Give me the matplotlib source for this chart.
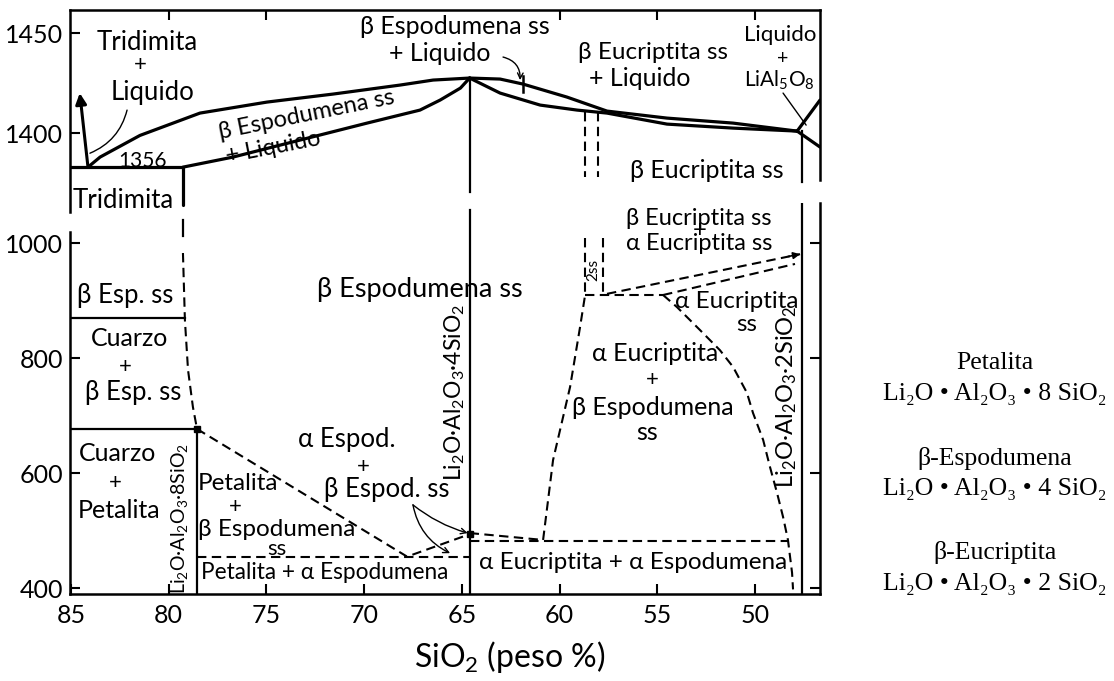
import numpy as np
import matplotlib
matplotlib.use('Agg')
import matplotlib.pyplot as plt

plt.rcParams['font.family'] = ['Lato', 'DejaVu Sans']
plt.rcParams['mathtext.fontset'] = 'custom'
plt.rcParams['mathtext.rm'] = 'Lato'
plt.rcParams['mathtext.default'] = 'regular'

# compositions of the compounds (peso % SiO2)
PETALITA = 78.55
ESPODUMENA = 64.6
EUCRIPTITA = 47.6

# ---- upper part: liquidus / solidus (SiO2 %, degC)
eut_t = 1356
trid_liq_sio2 = [84.13, 84.55]
trid_liq_t = [1356, 1420]
spod_liq_sio2 = [84.13, 83.51, 81.47, 78.40, 74.97, 71.59, 68.16, 66.47, 64.6]
spod_liq_t = [1356, 1369, 1397, 1410, 1415.5, 1419.5, 1424, 1426.5, 1427.5]
spod_sol_sio2 = [79.27, 76.71, 73.28, 69.85, 67.14, 66.11, 65.07, 64.6]
spod_sol_t = [1356, 1369, 1391, 1405, 1411.5, 1416.5, 1422.5, 1427.5]
eucr_liq_sio2 = [64.6, 63.04, 61.87, 59.62, 57.57, 54.50, 51.12, 47.84]
eucr_liq_t = [1427.5, 1427, 1424.5, 1418, 1411, 1407.5, 1405, 1401]
eucr_sol_sio2 = [64.6, 63.04, 60.99, 59.10, 57.57, 54.50, 51.12, 47.84]
eucr_sol_t = [1427.5, 1420, 1414, 1411.5, 1410, 1404.5, 1402.5, 1401]
lial_liq_sio2 = [47.84, 46.67]
lial_liq_t = [1401, 1416.5]
lial_low_sio2 = [47.84, 46.67]
lial_low_t = [1401, 1382]
trid_limit_sio2 = 79.27
ss2_top_sio2 = [58.69, 58.03]

# ---- lower part: subsolidus boundaries (SiO2 %, degC)
cuarzo_t = 870
petal_t = 677
spod_limit_sio2 = [79.27, 79.17, 79.01, 78.76, 78.55]
spod_limit_t = [983, 866.5, 779.6, 715.2, 677]
ab_spod_sio2 = [78.55, 67.8, 64.6]
ab_spod_t = [677, 455, 494]
petal_alpha_t = 455
euc_spod_sio2 = [64.6, 60.84]
euc_spod_t = [496, 484]
alpha_alpha_t = 482
alpha_euc_left_sio2 = [60.84, 60.33, 59.46, 58.95, 58.69]
alpha_euc_left_t = [484, 623, 750, 854, 910]
ss2_sio2 = [58.69, 57.77]
ss2_t = [1009, 910]
inversion_t = 910
alpha_euc_ss_sio2 = [54.70, 53.99, 52.81, 51.79, 51.12, 50.41, 50.10, 49.58,
                     49.23, 48.87, 48.56, 48.31, 48.10, 48.05]
alpha_euc_ss_t = [910, 889, 849, 814, 785, 740, 705, 658, 611, 566, 524, 484,
                  427, 398]
ba_euc_up_sio2 = [57.57, 47.69]
ba_euc_up_t = [912, 981]
ba_euc_low_sio2 = [54.70, 47.95]
ba_euc_low_t = [910, 964]

X_LIM = (85.05, 46.67)
TOP_LIM = (1298, 1461.5)
BOT_LIM = (390, 1070)
SQUEEZE = 17 / 44  # the range under 1400 is drawn compressed


def fwd(t):
    t = np.asarray(t, dtype=float)
    return np.where(t >= 1400, t, 1400 - (1400 - t) * SQUEEZE)


def inv(u):
    u = np.asarray(u, dtype=float)
    return np.where(u >= 1400, u, 1400 - (1400 - u) / SQUEEZE)


W, H = 1114, 681
fig = plt.figure(figsize=(W / 100, H / 100), dpi=100)
ax_b = fig.add_axes([70 / W, 1 - 594 / H, 750 / W, 391 / H])
ax_t = fig.add_axes([70 / W, 1 - 212 / H, 750 / W, 202 / H])
for ax in (ax_t, ax_b):
    ax.set_facecolor('none')
    ax.set_xlim(*X_LIM)
    for s in ax.spines.values():
        s.set_linewidth(1.8)

solid = dict(color='k', lw=2.3, solid_capstyle='round')
thin = dict(color='k', lw=1.6)
dash = dict(color='k', lw=1.5, ls=(0, (4.5, 2.6)))

# ---------------- upper panel
ax_t.set_yscale('function', functions=(fwd, inv))
ax_t.set_ylim(*TOP_LIM)
ax_t.spines['bottom'].set_visible(False)
ax_t.spines['right'].set_bounds(1339, TOP_LIM[1])
ax_t.set_yticks([1400, 1450])
ax_t.set_yticklabels(['1400', '1450'])
ax_t.yaxis.set_minor_locator(plt.NullLocator())
ax_t.xaxis.set_ticks_position('top')
ax_t.set_xticks([80, 75, 60, 55, 50])
ax_t.tick_params(axis='x', direction='in', length=7, width=1.5,
                 labeltop=False, labelbottom=False)
ax_t.tick_params(axis='y', direction='in', length=7, width=1.5, pad=5,
                 labelsize=18)

ax_t.plot(spod_liq_sio2, spod_liq_t, **solid)
ax_t.plot(spod_sol_sio2, spod_sol_t, **solid)
ax_t.plot(eucr_liq_sio2, eucr_liq_t, **solid)
ax_t.plot(eucr_sol_sio2, eucr_sol_t, **solid)
ax_t.plot(lial_liq_sio2, lial_liq_t, **solid)
ax_t.plot(lial_low_sio2, lial_low_t, **solid)
ax_t.plot([X_LIM[0], trid_limit_sio2], [eut_t, eut_t], **solid)
ax_t.plot([trid_limit_sio2, trid_limit_sio2], [eut_t, 1306.7], **solid)
ax_t.plot([ESPODUMENA, ESPODUMENA], [1427.5, 1323.6], **thin)
ax_t.plot([EUCRIPTITA, EUCRIPTITA], [1401, 1336.5], **thin)
for xv in ss2_top_sio2:
    ax_t.plot([xv, xv], [1410.5, 1343], **dash)
ax_t.plot([61.87, 61.87], [1428.5, 1420.5], color='k', lw=1.8)
ax_t.annotate('', xy=(trid_liq_sio2[1], trid_liq_t[1]),
              xytext=(trid_liq_sio2[0], trid_liq_t[0]),
              arrowprops=dict(arrowstyle='-|>', color='k', lw=2.2,
                              mutation_scale=16, shrinkA=0, shrinkB=0))

# leader lines
ax_t.annotate('', xy=(84.03, 1374), xytext=(82.13, 1411.5),
              arrowprops=dict(arrowstyle='-', color='k', lw=1.0,
                              connectionstyle='arc3,rad=-0.25',
                              shrinkA=0, shrinkB=0))
ax_t.annotate('', xy=(62.02, 1426.5), xytext=(62.89, 1438),
              arrowprops=dict(arrowstyle='->', color='k', lw=1.0,
                              connectionstyle='arc3,rad=-0.4',
                              shrinkA=0, shrinkB=0))
ax_t.annotate('', xy=(47.38, 1404), xytext=(48.56, 1420),
              arrowprops=dict(arrowstyle='-', color='k', lw=1.0,
                              shrinkA=0, shrinkB=0))

top_labels = [
    ('Tridimita', 81.11, 1445.5, 18.5, 0),
    ('+', 81.47, 1434, 16, 0),
    ('Liquido', 80.85, 1420.5, 18.5, 0),
    ('1356', 81.32, 1363.7, 15, 0),
    ('β Espodumena ss', 72.92, 1409, 17, 11.5),
    ('+ Liquido', 74.66, 1382, 17, 11),
    ('β Espodumena ss', 65.35, 1453.5, 18, 0),
    ('+ Liquido', 66.11, 1440, 18, 0),
    ('β Eucriptita ss', 55.21, 1440.5, 17.5, 0),
    ('+ Liquido', 55.88, 1427.5, 18, 0),
    ('Liquido', 48.72, 1449, 16, 0),
    ('+', 48.6, 1437.5, 14, 0),
    ('LiAl$_5$O$_8$', 48.75, 1426.5, 15, 0),
    ('β Eucriptita ss', 52.45, 1352, 18, 0),
    ('Tridimita', 82.34, 1313, 18.5, 0),
]
for txt, xv, tv, size, rot in top_labels:
    ax_t.text(xv, tv, txt, fontsize=size, rotation=rot, ha='center',
              va='center', rotation_mode='anchor')

# ---------------- lower panel
ax_b.set_ylim(*BOT_LIM)
ax_b.spines['top'].set_visible(False)
ax_b.spines['left'].set_bounds(BOT_LIM[0], 1019)
ax_b.spines['right'].set_bounds(*BOT_LIM)
ax_b.set_yticks([400, 600, 800, 1000])
ax_b.set_xticks(np.arange(85, 46, -5))
ax_b.tick_params(axis='y', direction='in', length=7, width=1.5, pad=5,
                 labelsize=18, right=True)
ax_b.tick_params(axis='x', direction='in', length=7, width=1.5, pad=7,
                 labelsize=18)
ax_b.set_xlabel('SiO$_2$ (peso %)', fontsize=23)
ax_b.xaxis.set_label_coords((510 - 70) / 750, -(657 - 594) / 391)
ax_b.xaxis.label.set_va('center')

ax_b.plot([X_LIM[0], spod_limit_sio2[1]], [cuarzo_t, cuarzo_t], **thin)
ax_b.plot([X_LIM[0], PETALITA], [petal_t, petal_t], **thin)
ax_b.plot([PETALITA, PETALITA], [petal_t, BOT_LIM[0]], **thin)
ax_b.plot([ESPODUMENA, ESPODUMENA], [1058, BOT_LIM[0]], **thin)
ax_b.plot([EUCRIPTITA, EUCRIPTITA], [BOT_LIM[1], BOT_LIM[0]], **thin)
ax_b.plot([trid_limit_sio2, trid_limit_sio2], [1040, 1012], **thin)

ax_b.plot(spod_limit_sio2, spod_limit_t, **dash)
ax_b.plot(ab_spod_sio2, ab_spod_t, **dash)
ax_b.plot([PETALITA, ESPODUMENA], [petal_alpha_t, petal_alpha_t], **dash)
ax_b.plot(euc_spod_sio2, euc_spod_t, **dash)
ax_b.plot([ESPODUMENA, alpha_euc_ss_sio2[11]], [alpha_alpha_t, alpha_alpha_t],
          **dash)
ax_b.plot(alpha_euc_left_sio2, alpha_euc_left_t, **dash)
for xv in ss2_sio2:
    ax_b.plot([xv, xv], ss2_t, **dash)
ax_b.plot([alpha_euc_left_sio2[-1], alpha_euc_ss_sio2[0]],
          [inversion_t, inversion_t], **dash)
ax_b.plot(alpha_euc_ss_sio2, alpha_euc_ss_t, **dash)
ax_b.plot(ba_euc_up_sio2, ba_euc_up_t, **dash)
ax_b.plot(ba_euc_low_sio2, ba_euc_low_t, **dash)
ax_b.annotate('', xy=(ba_euc_up_sio2[1], ba_euc_up_t[1]),
              xytext=(48.3, 977),
              arrowprops=dict(arrowstyle='-|>', color='k', lw=1.2,
                              mutation_scale=10, shrinkA=0, shrinkB=0))
ax_b.plot([PETALITA, ESPODUMENA], [petal_t, 494], 's', color='k', ms=4)

ax_b.annotate('', xy=(64.7, 496), xytext=(67.5, 545),
              arrowprops=dict(arrowstyle='->', color='k', lw=1.0,
                              connectionstyle='arc3,rad=0.1',
                              shrinkA=0, shrinkB=0))
ax_b.annotate('', xy=(65.6, 461), xytext=(67.5, 545),
              arrowprops=dict(arrowstyle='->', color='k', lw=1.0,
                              connectionstyle='arc3,rad=0.25',
                              shrinkA=0, shrinkB=0))

bot_labels = [
    ('β Esp. ss', 82.24, 910, 18.5, 0),
    ('Cuarzo', 81.98, 835, 18, 0),
    ('+', 82.24, 785, 16, 0),
    ('β Esp. ss', 81.83, 740, 18.5, 0),
    ('Cuarzo', 82.64, 635, 18, 0),
    ('+', 82.75, 583, 16, 0),
    ('Petalita', 82.54, 536, 18, 0),
    ('Li$_2$O·Al$_2$O$_3$·8SiO$_2$', 79.47, 521, 14, 90),
    ('Petalita', 76.45, 583, 17.5, 0),
    ('+', 76.61, 541, 16, 0),
    ('β Espodumena', 74.46, 503, 17.5, 0),
    ('ss', 74.46, 469, 16, 0),
    ('Petalita + α Espodumena', 72.0, 428, 16.3, 0),
    ('α Espod.', 70.87, 658, 18.5, 0),
    ('+', 70.05, 611, 16, 0),
    ('β Espod. ss', 68.83, 571, 18.5, 0),
    ('β Espodumena ss', 67.14, 919, 19.5, 0),
    ('Li$_2$O·Al$_2$O$_3$·4SiO$_2$', 65.35, 740, 16.5, 90),
    ('2ss', 58.28, 953, 11, 90),
    ('α Eucriptita', 50.91, 898, 17.5, 0),
    ('ss', 50.40, 858, 17.5, 0),
    ('α Eucriptita', 55.11, 809, 18, 0),
    ('+', 55.27, 762, 16, 0),
    ('β Espodumena', 55.21, 713.5, 18, 0),
    ('ss', 55.52, 670, 18, 0),
    ('Li$_2$O·Al$_2$O$_3$·2SiO$_2$', 48.36, 733, 17, 90),
    ('α Eucriptita + α Espodumena', 56.24, 444, 17.5, 0),
]
for txt, xv, tv, size, rot in bot_labels:
    ax_b.text(xv, tv, txt, fontsize=size, rotation=rot, ha='center',
              va='center', rotation_mode='anchor')

# the two eucryptite forms share one tightly stacked block
ax_b.text(52.85, 1022, 'β Eucriptita ss\n+\nα Eucriptita ss', fontsize=17,
          ha='center', va='center', multialignment='center',
          linespacing=0.5)

# ---------------- formulas on the right
serif = ['Liberation Serif', 'DejaVu Serif']
formulas = [
    ('Petalita', 'Li₂O • Al₂O₃ • 8 SiO₂'),
    ('β-Espodumena', 'Li₂O • Al₂O₃ • 4 SiO₂'),
    ('β-Eucriptita', 'Li₂O • Al₂O₃ • 2 SiO₂'),
]
name_y = [363, 458, 553]
for (name, formula), py in zip(formulas, name_y):
    fig.text(995 / W, 1 - py / H, name, family=serif, fontsize=18.5,
             ha='center', va='center')
    fig.text(995 / W, 1 - (py + 31) / H, formula, family=serif,
             fontsize=18.5, ha='center', va='center')

fig.savefig('out.png', dpi=100)
